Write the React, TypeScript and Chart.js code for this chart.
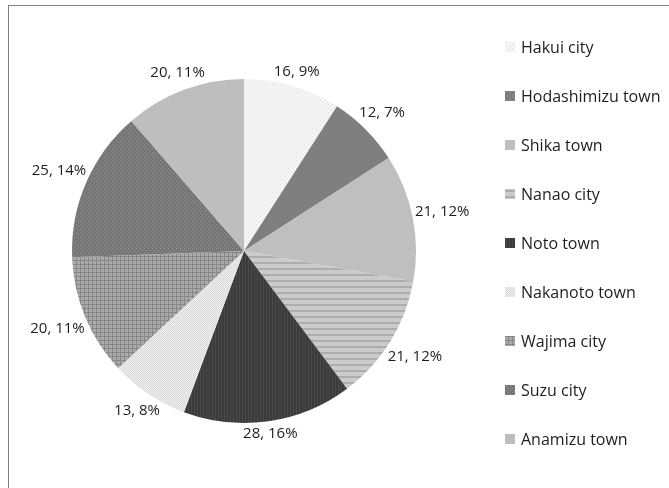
import React, { useEffect, useRef } from "react";
import { Chart, registerables } from "chart.js";

Chart.register(...registerables);

// ---- data ----
const labels = [
  "Hakui city",
  "Hodashimizu town",
  "Shika town",
  "Nanao city",
  "Noto town",
  "Nakanoto town",
  "Wajima city",
  "Suzu city",
  "Anamizu town",
];
const values = [16, 12, 21, 21, 28, 13, 20, 25, 20];
const shares = [9, 7, 12, 12, 16, 8, 11, 14, 11];

// ---- fill styles (tile patterns) ----
type Painter = (c: CanvasRenderingContext2D) => void;
const tiles: { w: number; h: number; paint: Painter }[] = [
  // Hakui: very light dotted
  {
    w: 4, h: 4, paint: (c) => {
      c.fillStyle = "#f5f5f5"; c.fillRect(0, 0, 4, 4);
      c.fillStyle = "#dcdcdc"; c.fillRect(0, 0, 1, 1); c.fillRect(2, 2, 1, 1);
    },
  },
  // Hodashimizu: solid dark gray
  { w: 1, h: 1, paint: (c) => { c.fillStyle = "#7f7f7f"; c.fillRect(0, 0, 1, 1); } },
  // Shika: solid light gray
  { w: 1, h: 1, paint: (c) => { c.fillStyle = "#bfbfbf"; c.fillRect(0, 0, 1, 1); } },
  // Nanao: horizontal stripes
  {
    w: 1, h: 6, paint: (c) => {
      c.fillStyle = "#cbcbcb"; c.fillRect(0, 0, 1, 6);
      c.fillStyle = "#adadad"; c.fillRect(0, 4, 1, 2);
    },
  },
  // Noto: dark with vertical fine stripes
  {
    w: 3, h: 1, paint: (c) => {
      c.fillStyle = "#3b3b3b"; c.fillRect(0, 0, 3, 1);
      c.fillStyle = "#4a4a4a"; c.fillRect(2, 0, 1, 1);
    },
  },
  // Nakanoto: light dotted
  {
    w: 2, h: 2, paint: (c) => {
      c.fillStyle = "#eeeeee"; c.fillRect(0, 0, 2, 2);
      c.fillStyle = "#dadada"; c.fillRect(0, 0, 1, 1); c.fillRect(1, 1, 1, 1);
    },
  },
  // Wajima: grid
  {
    w: 4, h: 4, paint: (c) => {
      c.fillStyle = "#ababab"; c.fillRect(0, 0, 4, 4);
      c.fillStyle = "#878787"; c.fillRect(0, 0, 4, 1); c.fillRect(0, 0, 1, 4);
    },
  },
  // Suzu: gray with light dots
  {
    w: 4, h: 4, paint: (c) => {
      c.fillStyle = "#767676"; c.fillRect(0, 0, 4, 4);
      c.fillStyle = "#969696"; c.fillRect(0, 0, 1, 1); c.fillRect(2, 2, 1, 1);
    },
  },
  // Anamizu: light gray fine checker
  {
    w: 2, h: 2, paint: (c) => {
      c.fillStyle = "#c7c7c7"; c.fillRect(0, 0, 2, 2);
      c.fillStyle = "#b5b5b5"; c.fillRect(0, 0, 1, 1); c.fillRect(1, 1, 1, 1);
    },
  },
];

function makePatterns(ctx: CanvasRenderingContext2D) {
  return tiles.map((t) => {
    const cv = document.createElement("canvas");
    cv.width = t.w;
    cv.height = t.h;
    const c = cv.getContext("2d")!;
    t.paint(c);
    return ctx.createPattern(cv, "repeat") as CanvasPattern;
  });
}

const LABEL_FONT = "15px 'Open Sans'";
const LEGEND_FONT = "16px 'Open Sans'";

const outsideLabels = {
  id: "outsideLabels",
  afterDatasetsDraw(chart: any) {
    const { ctx } = chart;
    const meta = chart.getDatasetMeta(0);
    ctx.save();
    ctx.font = LABEL_FONT;
    ctx.fillStyle = "#1e1e1e";
    ctx.textAlign = "center";
    ctx.textBaseline = "middle";
    meta.data.forEach((arc: any, i: number) => {
      const { x, y, startAngle, endAngle, outerRadius } = arc.getProps(
        ["x", "y", "startAngle", "endAngle", "outerRadius"],
        true
      );
      const mid = (startAngle + endAngle) / 2;
      const dx = Math.cos(mid);
      const dy = Math.sin(mid);
      const text = `${values[i]}, ${shares[i]}%`;
      const w = ctx.measureText(text).width;
      const h = 14;
      const ext = Math.abs(dx) * (w / 2) + Math.abs(dy) * (h / 2);
      const d = outerRadius + 2 + ext;
      ctx.fillText(text, x + dx * d, y + dy * d);
    });
    ctx.restore();
  },
};

const sideLegend = {
  id: "sideLegend",
  afterDraw(chart: any, _args: any, opts: any) {
    const { ctx } = chart;
    const ds = chart.data.datasets[0];
    ctx.save();
    ctx.font = LEGEND_FONT;
    ctx.textBaseline = "middle";
    ctx.textAlign = "left";
    chart.data.labels.forEach((lab: string, i: number) => {
      const cy = opts.top + i * opts.step;
      ctx.fillStyle = ds.backgroundColor[i];
      ctx.fillRect(opts.boxX, cy - opts.box / 2, opts.box, opts.box);
      ctx.fillStyle = "#1e1e1e";
      ctx.fillText(lab, opts.textX, cy + 1);
    });
    ctx.restore();
  },
};

export default function App() {
  const ref = useRef<HTMLCanvasElement | null>(null);

  useEffect(() => {
    const canvas = ref.current;
    if (!canvas) return;
    const ctx = canvas.getContext("2d")!;
    const patterns = makePatterns(ctx);
    const chart = new Chart(canvas, {
      type: "pie",
      data: {
        labels,
        datasets: [
          {
            data: values,
            backgroundColor: patterns as any,
            borderWidth: 0,
          },
        ],
      },
      options: {
        responsive: false,
        animation: false,
        devicePixelRatio: 1,
        layout: { padding: { left: 72, right: 253, top: 79, bottom: 65 } },
        plugins: {
          legend: { display: false },
          tooltip: { enabled: false },
          sideLegend: { boxX: 505, textX: 521, top: 47, step: 49, box: 10 },
        } as any,
      },
      plugins: [outsideLabels, sideLegend],
    });
    return () => chart.destroy();
  }, []);

  return (
    <div
      style={{
        position: "absolute",
        left: 0,
        top: 0,
        width: 669,
        height: 488,
        overflow: "hidden",
        background: "#ffffff",
      }}
    >
      <div
        style={{
          position: "absolute",
          left: 8,
          top: 5,
          width: 720,
          height: 540,
          border: "1px solid #808080",
          boxSizing: "border-box",
        }}
      />
      <canvas
        ref={ref}
        width={669}
        height={488}
        style={{ position: "absolute", left: 0, top: 0 }}
      />
    </div>
  );
}
